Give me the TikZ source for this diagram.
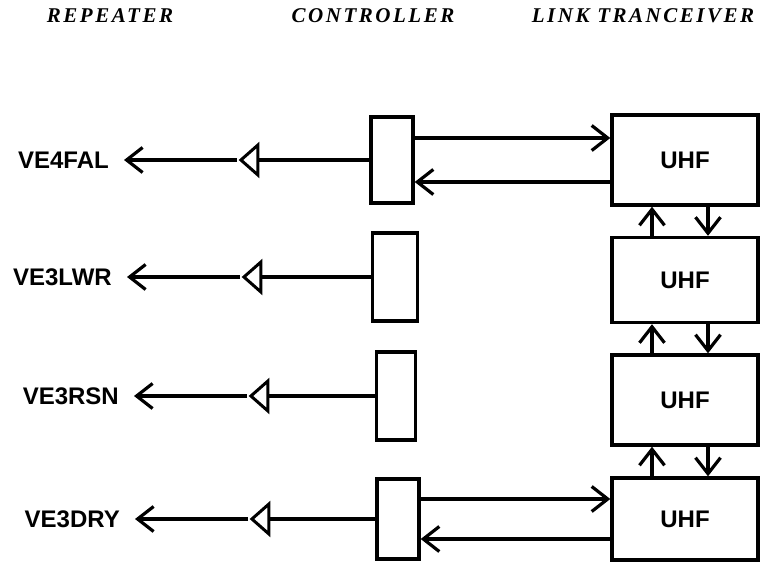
\documentclass[tikz,border=0pt]{standalone}
\usepackage{fontspec}
\newfontfamily\headfont{Liberation Serif}[LetterSpace=12]
\newfontfamily\callfont{Liberation Sans}
\usetikzlibrary{positioning, arrows.meta, shapes.geometric}

\begin{document}
\begin{tikzpicture}[
  x=1bp, y=-1bp,
  node distance=113bp,
  every node/.style={inner sep=0pt},
  ctrl/.style={rectangle, draw, line width=3.4bp,
               minimum width=42bp, minimum height=86bp},
  uhf/.style={rectangle, draw, line width=3.4bp,
              minimum width=146bp, minimum height=88bp,
              font=\callfont\bfseries\fontsize{24bp}{26bp}\selectfont},
  amp/.style={isosceles triangle, isosceles triangle stretches,
              shape border rotate=180, draw, line width=3bp,
              minimum width=30bp, minimum height=17bp, anchor=apex},
  call/.style={inner xsep=15bp,
               font=\callfont\bfseries\fontsize{24bp}{26bp}\selectfont},
  head/.style={font=\headfont\bfseries\itshape\fontsize{21bp}{24bp}\selectfont},
  wire/.style={line width=3.2bp},
  arr/.style={-{Straight Barb[length=16bp,width=25bp]}, line width=3.2bp}
]
  \useasboundingbox (0,0) rectangle (760,564);

  % Column headers
  \node[head] (hrep) at (110,16) {REPEATER};
  \node[head] (hctl) at (373,16) {CONTROLLER};
  \node[head] (hlnk) at (643,16) {LINK TRANCEIVER};

  % Controllers
  \node[ctrl] (c1) at (392,160) {};
  \node[ctrl, minimum width=45bp, minimum height=88bp] (c2) at (395,277) {};
  \node[ctrl, minimum width=39bp, minimum height=88bp] (c3) at (396,396) {};
  \node[ctrl, minimum height=80bp] (c4) at (398,519) {};

  % Link tranceivers
  \node[uhf, minimum height=90bp] (u1) at (685,160) {UHF};
  \node[uhf, minimum height=85bp] (u2) at (685,280) {UHF};
  \node[uhf, minimum height=90bp] (u3) at (685,400) {UHF};
  \node[uhf, minimum height=82bp] (u4) at (685,519) {UHF};

  % Repeaters
  \node[amp] (a1) at (237,160) {};
  \node[amp] (a2) at (240,277) {};
  \node[amp] (a3) at (247,396) {};
  \node[amp] (a4) at (248,519) {};
  \node[call, left=of a1] (l1) {VE4FAL};
  \node[call, left=of a2] (l2) {VE3LWR};
  \node[call, left=of a3] (l3) {VE3RSN};
  \node[call, left=of a4] (l4) {VE3DRY};

  % Arrows
  \draw[wire] (c1.west) -- (a1.east);
  \draw[wire] (c2.west) -- (a2.east);
  \draw[wire] (c3.west) -- (a3.east);
  \draw[wire] (c4.west) -- (a4.east);
  \draw[arr] (a1.west) -- (l1.east);
  \draw[arr] (a2.west) -- (l2.east);
  \draw[arr] (a3.west) -- (l3.east);
  \draw[arr] (a4.west) -- (l4.east);

  \draw[arr] ([yshift=22bp]c1.east) -- ([yshift=22bp]u1.west);
  \draw[arr] ([yshift=-22bp]u1.west) -- ([yshift=-22bp]c1.east);
  \draw[arr] ([yshift=20bp]c4.east) -- ([yshift=20bp]u4.west);
  \draw[arr] ([yshift=-20bp]u4.west) -- ([yshift=-20bp]c4.east);

  % Link between tranceivers
  \draw[arr] ([xshift=-33bp]u2.north) -- ([xshift=-33bp]u1.south);
  \draw[arr] ([xshift=23bp]u1.south) -- ([xshift=23bp]u2.north);
  \draw[arr] ([xshift=-33bp]u3.north) -- ([xshift=-33bp]u2.south);
  \draw[arr] ([xshift=23bp]u2.south) -- ([xshift=23bp]u3.north);
  \draw[arr] ([xshift=-33bp]u4.north) -- ([xshift=-33bp]u3.south);
  \draw[arr] ([xshift=23bp]u3.south) -- ([xshift=23bp]u4.north);
\end{tikzpicture}
\end{document}
